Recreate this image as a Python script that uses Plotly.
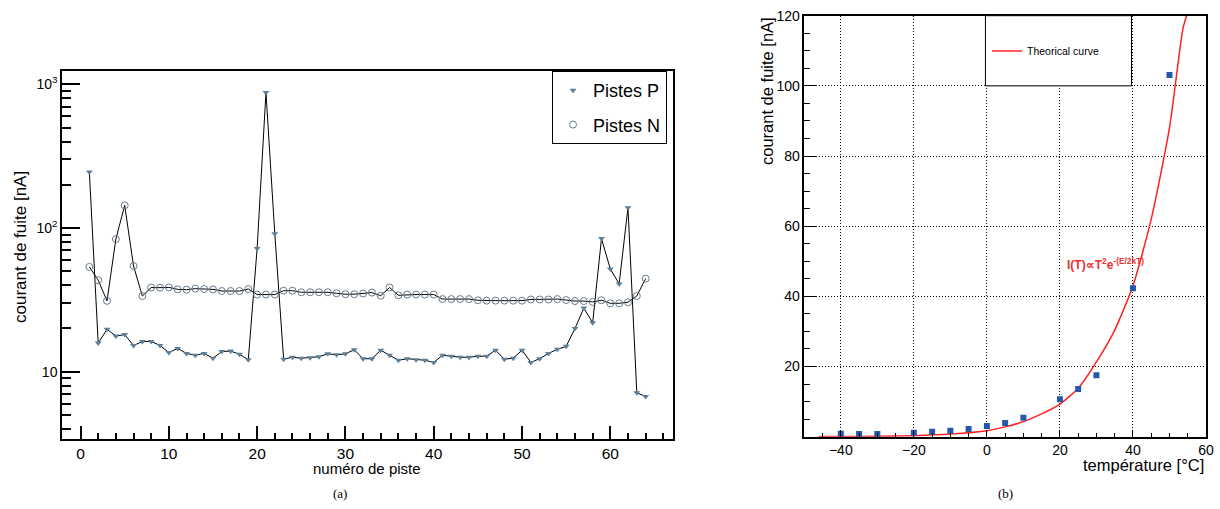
import plotly.graph_objects as go

# ---------------- data: panel (a) ----------------
strips = list(range(1, 65))
pistes_p = [245, 15.8, 19.7, 17.7, 18.1, 15.2, 16.2, 16.2, 15.2, 13.6,
            14.5, 13.4, 13.0, 13.4, 12.4, 13.8, 13.9, 13.2, 12.1, 72.1,
            879, 91.3, 12.2, 12.6, 12.4, 12.5, 12.7, 13.3, 13.1, 13.3,
            14.2, 12.3, 12.3, 14.1, 13.0, 12.0, 12.3, 12.1, 12.0, 11.6,
            13.0, 12.8, 12.6, 12.6, 12.8, 12.8, 14.1, 12.2, 12.4, 14.1,
            11.6, 12.3, 13.4, 14.3, 15.0, 20.0, 27.7, 21.9, 84.4, 51.9,
            40.8, 138.6, 7.14, 6.70]
pistes_n = [53.6, 43.3, 31.1, 83.8, 143.8, 54.4, 33.6,
            38.5, 38.4, 38.6, 37.4, 37.2, 37.8, 37.6, 37.4, 36.4, 36.4, 36.4, 37.6,
            34.4, 34.4, 34.4,
            36.6, 36.6, 35.7, 35.7, 35.7, 35.7,
            35.1, 34.6, 34.6, 35.0, 35.5, 33.8, 38.5, 34.0,
            34.4, 34.4, 34.4, 34.4,
            32.0, 32.0, 32.0, 32.0,
            31.4, 31.2, 31.2, 31.2, 31.2, 31.2,
            31.8, 31.8, 31.8, 32.0, 31.5, 31.0, 31.0, 30.6, 31.4, 29.9,
            29.9, 30.4, 33.6, 44.4]
log_tickvals = [10, 100, 1000]
log_ticktext = ["10", "10<sup>2</sup>", "10<sup>3</sup>"]
log_minor = [4, 5, 6, 7, 8, 9, 20, 30, 40, 50, 60, 70, 80, 90,
             200, 300, 400, 500, 600, 700, 800, 900]

# ---------------- data: panel (b) ----------------
temps = [-40, -35, -30, -20, -15, -10, -5, 0, 5, 10, 20, 25, 30, 40, 50]
current = [0.85, 0.8, 0.8, 1.14, 1.43, 1.71, 2.19, 3.05, 3.9, 5.4,
           10.65, 13.6, 17.5, 42.3, 103.1]
curve_t = [-46, -40, -30, -20, -10, 0, 5, 10, 15, 20, 25, 30, 35, 40,
           45, 50, 53.7, 55]
curve_i = [0.03, 0.05, 0.12, 0.3, 0.75, 1.7, 2.8, 4.3, 6.5, 9.3, 13.8,
           21.3, 30.4, 43, 62, 88, 116.4, 121]

FONT = "Liberation Sans, Arial, Helvetica, sans-serif"
SERIF = "Liberation Serif, DejaVu Serif, serif"
W, H = 1220, 509

fig = go.Figure()

# panel (a)
fig.add_trace(go.Scatter(x=strips, y=pistes_p, mode="lines",
                         line=dict(color="black", width=1), showlegend=False,
                         xaxis="x", yaxis="y", hoverinfo="skip"))
fig.add_trace(go.Scatter(x=strips, y=pistes_n, mode="lines",
                         line=dict(color="black", width=1), showlegend=False,
                         xaxis="x", yaxis="y", hoverinfo="skip"))
fig.add_trace(go.Scatter(x=strips, y=pistes_p, mode="markers", name="Pistes P",
                         marker=dict(symbol="triangle-down", size=6, color="#5d7f99"),
                         xaxis="x", yaxis="y", legend="legend", legendgroup="p"))
fig.add_trace(go.Scatter(x=strips, y=pistes_n, mode="markers", name="Pistes N",
                         marker=dict(symbol="circle-open", size=7, color="#687b8e",
                                     line=dict(width=1)),
                         xaxis="x", yaxis="y", legend="legend", legendgroup="n"))

# panel (b)
fig.add_trace(go.Scatter(x=curve_t, y=curve_i, mode="lines", name="Theorical curve",
                         line=dict(color="#ff2020", width=1.5, shape="spline", smoothing=0.6),
                         xaxis="x2", yaxis="y2", legend="legend2"))
fig.add_trace(go.Scatter(x=temps, y=current, mode="markers", showlegend=False,
                         marker=dict(symbol="square", size=6, color="#2458a8"),
                         xaxis="x2", yaxis="y2"))

axis_common = dict(showline=True, linecolor="black", linewidth=1.5, mirror=True,
                   ticks="inside", tickcolor="black", zeroline=False,
                   automargin=False)

fig.update_layout(
    width=W, height=H, autosize=False,
    margin=dict(l=0, r=0, t=0, b=0),
    paper_bgcolor="white", plot_bgcolor="white",
    font=dict(family=FONT, color="black"),
    xaxis=dict(domain=[62 / W, 673 / W], range=[-2.1, 67.1], anchor="y",
               tickvals=[0, 10, 20, 30, 40, 50, 60], ticklen=13, tickwidth=1.5,
               minor=dict(dtick=2, tick0=0, ticks="inside", ticklen=6,
                          tickcolor="black", showgrid=False),
               showgrid=False, tickfont=dict(size=15.5), **axis_common),
    yaxis=dict(domain=[1 - 439 / H, 1 - 71 / H], type="log", range=[0.531, 3.093],
               anchor="x", tickvals=log_tickvals, ticktext=log_ticktext,
               ticklen=18, tickwidth=1.5,
               minor=dict(tickvals=log_minor, ticks="inside", ticklen=9,
                          tickcolor="black", showgrid=False),
               showgrid=False, tickfont=dict(size=14), **axis_common),
    xaxis2=dict(domain=[804.3 / W, 1206 / W], range=[-50, 60], anchor="y2",
                tickvals=[-40, -20, 0, 20, 40, 60], ticklen=7, tickwidth=1.2,
                minor=dict(dtick=5, tick0=0, ticks="inside", ticklen=4,
                           tickcolor="black", showgrid=False),
                showgrid=True, gridcolor="black", griddash="1px,2px", gridwidth=1,
                tickfont=dict(size=14), **axis_common),
    yaxis2=dict(domain=[1 - 436.7 / H, 1 - 15.7 / H], range=[0, 120], anchor="x2",
                tickvals=[20, 40, 60, 80, 100, 120], ticklen=12, tickwidth=1.2,
                minor=dict(dtick=5, tick0=0, ticks="inside", ticklen=6,
                           tickcolor="black", showgrid=False),
                showgrid=True, gridcolor="black", griddash="1px,2px", gridwidth=1,
                tickfont=dict(size=14), **axis_common),
    legend=dict(x=552 / W, y=1 - 71 / H, xanchor="left", yanchor="top",
                bgcolor="white", bordercolor="black", borderwidth=1,
                font=dict(size=18, family=FONT), tracegroupgap=8,
                itemsizing="trace"),
    legend2=dict(x=987 / W, y=1 - 51 / H, xanchor="left", yanchor="middle",
                 bgcolor="rgba(0,0,0,0)", borderwidth=0,
                 font=dict(size=10.5, family=FONT)),
    shapes=[dict(type="rect", xref="x2", yref="y2", x0=-0.4, x1=39.6, y0=100, y1=120,
                 line=dict(color="black", width=1), fillcolor="white", layer="above")],
    annotations=[
        dict(text="numéro de piste", xref="paper", yref="paper", x=367.5 / W,
             y=1 - 468 / H, xanchor="center", yanchor="middle", showarrow=False,
             font=dict(size=15, family=FONT)),
        dict(text="courant de fuite [nA]", xref="paper", yref="paper", x=20 / W,
             y=1 - 247 / H, xanchor="center", yanchor="middle", showarrow=False,
             textangle=-90, font=dict(size=17, family=FONT)),
        dict(text="température [°C]", xref="paper", yref="paper", x=1206 / W,
             y=1 - 465 / H, xanchor="right", yanchor="middle", showarrow=False,
             font=dict(size=16.5, family=FONT)),
        dict(text="courant de fuite [nA]", xref="paper", yref="paper", x=767 / W,
             y=1 - 15 / H, xanchor="center", yanchor="top", showarrow=False,
             textangle=-90, font=dict(size=16.5, family=FONT)),
        dict(text="(a)", xref="paper", yref="paper", x=340 / W, y=1 - 493 / H,
             xanchor="center", yanchor="middle", showarrow=False,
             font=dict(size=13, family=SERIF)),
        dict(text="(b)", xref="paper", yref="paper", x=1005 / W, y=1 - 493 / H,
             xanchor="center", yanchor="middle", showarrow=False,
             font=dict(size=13, family=SERIF)),
        dict(text="<b>I(T)∝T<sup>2</sup>e<sup>-(E/2kT)</sup></b>", xref="x2", yref="y2",
             x=21.5, y=49.2, xanchor="left", yanchor="middle", showarrow=False,
             font=dict(size=12, family=FONT, color="#ee3030")),
    ],
)

fig.write_html("out.html", config={"displayModeBar": False},
               post_script="document.body.style.margin='0';"
                           "document.body.style.overflow='hidden';")
